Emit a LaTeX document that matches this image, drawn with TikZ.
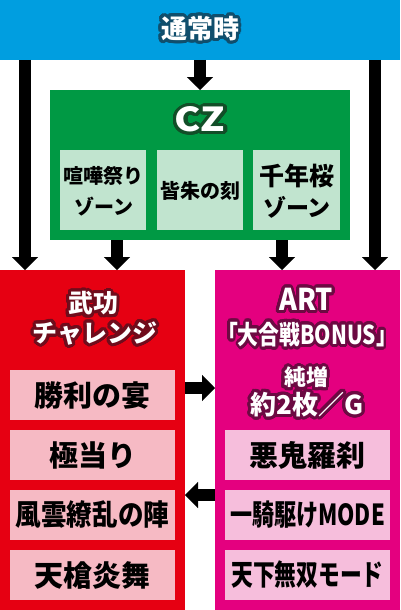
\documentclass[tikz,border=0pt]{standalone}
\usepackage{fontspec}
\usepackage{graphicx}
\usepackage[copies]{contour}
\newfontfamily\jp{Noto Sans CJK JP}
\usetikzlibrary{arrows.meta,calc}
\contournumber{32}
\contourlength{3pt}
\definecolor{topblue}{RGB}{0,158,224}
\definecolor{topline}{RGB}{16,78,108}
\definecolor{czgreen}{RGB}{0,153,68}
\definecolor{czlight}{RGB}{193,228,207}
\definecolor{czline}{RGB}{18,78,40}
\definecolor{bukored}{RGB}{230,0,18}
\definecolor{bukopink}{RGB}{246,186,196}
\definecolor{bukoline}{RGB}{112,12,28}
\definecolor{artmag}{RGB}{228,0,127}
\definecolor{artpink}{RGB}{246,190,220}
\definecolor{artline}{RGB}{108,10,66}
\tikzset{
  blk/.style={draw=none, inner sep=0pt, outer sep=0pt, anchor=north west},
  arr/.style={line width=11.5pt, line cap=butt, -{Triangle[width=26pt,length=13pt,line width=0.1pt]}},
  jpf/.style={font=\jp\bfseries\fontsize{#1}{#1}\selectfont, inner sep=0pt},
  ttl/.style={text=white, jpf=#1},
  lbl/.style={text=black, jpf=#1},
}
\begin{document}
\begin{tikzpicture}[x=1pt,y=-1pt]
\useasboundingbox (0,0) rectangle (400,610);
% main blocks
\node[blk, fill=topblue, minimum width=400pt, minimum height=60pt] (top) at (0,0) {};
\node[blk, fill=czgreen, minimum width=300pt, minimum height=150pt] (cz) at (50,90) {};
\node[blk, fill=bukored, minimum width=185pt, minimum height=340pt] (buko) at (0,270) {};
\node[blk, fill=artmag, minimum width=185pt, minimum height=340pt] (art) at (215,270) {};
% titles
\node[ttl=26] (toplbl) at (200,30) {\contour{topline}{通常時}};
\node[ttl=33] (czlbl) at (200,121) {\scalebox{1.2}[1]{\contour{czline}{CZ}}};
\node[ttl=25] (bukol1) at (93,305) {\contour{bukoline}{武功}};
\node[ttl=25] (bukol2) at (95,335) {\contour{bukoline}{チャレンジ}};
\node[ttl=30] (artl1) at (306,301) {\scalebox{0.9}[1]{\contour{artline}{ART}}};
\node[ttl=26] (artl2) at (307,336) {\scalebox{0.8}[1]{\contour{artline}{「大合戦BONUS」}}};
\node[ttl=22] (artl3) at (306,379) {\contour{artline}{純増}};
\node[ttl=26] (artl4) at (307,406) {\contour{artline}{約2枚／G}};
% CZ sub boxes
\node[blk, fill=czlight, minimum width=86pt, minimum height=80pt] (cz1) at (60,150) {};
\node[blk, fill=czlight, minimum width=86pt, minimum height=80pt] (cz2) at (157,150) {};
\node[blk, fill=czlight, minimum width=87pt, minimum height=80pt] (cz3) at (253,150) {};
\node[lbl=20] (cz1a) at (103,176) {喧嘩祭り};
\node[lbl=20] (cz1b) at (104,207) {ゾーン};
\node[lbl=20] (cz2a) at (200,191) {皆朱の刻};
\node[lbl=25] (cz3a) at (297,176) {千年桜};
\node[lbl=23] (cz3b) at (297,207) {ゾーン};
% buko sub boxes
\node[blk, fill=bukopink, minimum width=165pt, minimum height=50pt] (b1) at (10,370) {};
\node[blk, fill=bukopink, minimum width=165pt, minimum height=50pt] (b2) at (10,430) {};
\node[blk, fill=bukopink, minimum width=165pt, minimum height=50pt] (b3) at (10,490) {};
\node[blk, fill=bukopink, minimum width=165pt, minimum height=50pt] (b4) at (10,550) {};
\node[lbl=29] (b1t) at (b1.center) {勝利の宴};
\node[lbl=29] (b2t) at (b2.center) {極当り};
\node[lbl=29] (b3t) at (b3.center) {\scalebox{0.88}[1]{風雲繚乱の陣}};
\node[lbl=29] (b4t) at (b4.center) {天槍炎舞};
% art sub boxes
\node[blk, fill=artpink, minimum width=165pt, minimum height=50pt] (a1) at (225,430) {};
\node[blk, fill=artpink, minimum width=165pt, minimum height=50pt] (a2) at (225,490) {};
\node[blk, fill=artpink, minimum width=165pt, minimum height=50pt] (a3) at (225,550) {};
\node[lbl=29] (a1t) at (a1.center) {悪鬼羅刹};
\node[lbl=29] (a2t) at (a2.center) {\scalebox{0.76}[1]{一騎駆けMODE}};
\node[lbl=29] (a3t) at (a3.center) {\scalebox{0.75}[1]{天下無双モード}};
% connector guide coordinates
\coordinate (xl) at (25,0);
\coordinate (xr) at (375,0);
\coordinate (xcl) at (117,0);
\coordinate (xcr) at (282,0);
\coordinate (yh1) at (0,388);
\coordinate (yh2) at (0,495);
% connectors
\draw[arr] (top.south) -- (cz.north);
\draw[arr] (top.south -| xl) -- (buko.north -| xl);
\draw[arr] (top.south -| xr) -- (art.north -| xr);
\draw[arr] (cz.south -| xcl) -- (buko.north -| xcl);
\draw[arr] (cz.south -| xcr) -- (art.north -| xcr);
\draw[arr] (buko.east |- yh1) -- (art.west |- yh1);
\draw[arr] (art.west |- yh2) -- (buko.east |- yh2);
\end{tikzpicture}
\end{document}
